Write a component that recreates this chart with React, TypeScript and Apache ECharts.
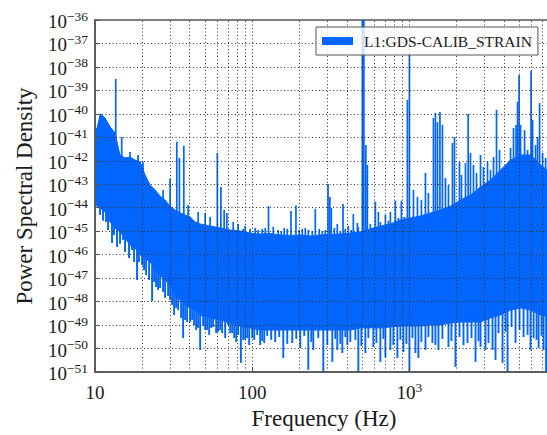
import React, { useEffect, useRef } from "react";
import * as echarts from "echarts";

// ---- data (frequency in Hz, PSD as log10 of the value) ----
const bandFreqs = [10, 10.8, 11.6, 12.5, 13.4, 14.4, 15.5, 16.7, 18, 19.4, 20.8, 22.4, 24.1, 25.9, 27.9, 30, 32.3, 34.8, 37.4, 40.3, 43.4, 46.6, 54, 62.5, 72.4, 84, 97, 112, 130, 151, 175, 202, 234, 271, 314, 363, 421, 487, 564, 654, 757, 876, 1015, 1175, 1361, 1576, 1824, 2112, 2446, 2832, 3280, 3798, 4398, 5093, 5897, 6829, 8192];
const bandTopLog = [-40.99, -40.0, -40.18, -40.56, -40.81, -41.75, -41.88, -41.84, -41.97, -42.05, -42.6, -43.03, -43.24, -43.5, -43.67, -43.93, -44.1, -44.22, -44.31, -44.39, -44.61, -44.69, -44.78, -44.86, -44.95, -44.99, -45.08, -45.12, -45.1, -45.16, -45.18, -45.16, -45.2, -45.16, -45.14, -45.12, -45.08, -45.03, -44.9, -44.78, -44.69, -44.52, -44.44, -44.35, -44.22, -44.1, -43.93, -43.67, -43.46, -43.12, -42.82, -42.39, -41.97, -41.75, -41.75, -42.18, -42.6];
const bandBottomLog = [-43.88, -44.01, -44.18, -44.61, -44.86, -45.03, -45.29, -45.59, -45.71, -46.01, -46.14, -46.31, -46.57, -46.87, -47.08, -47.29, -47.72, -47.93, -48.14, -48.27, -48.36, -48.57, -48.7, -48.78, -48.91, -49.04, -49.12, -49.21, -49.21, -49.21, -49.21, -49.21, -49.21, -49.21, -49.21, -49.21, -49.21, -49.12, -49.12, -49.12, -49.08, -49.04, -49.04, -49.04, -49.0, -49.0, -48.91, -48.87, -48.87, -48.87, -48.7, -48.57, -48.36, -48.27, -48.36, -48.57, -48.7];

const spikeFreqs = [10.3, 13.55, 14.79, 16.71, 18.79, 20.21, 27.11, 30.04, 33.14, 34.43, 36.73, 39.12, 45.31, 50.19, 54.02, 60, 63.2, 66.3, 69.0, 75.7, 81.4, 87.63, 90.2, 97.1, 104.5, 109.2, 115.8, 121.0, 127, 136.1, 146.4, 153.0, 159.9, 167.1, 176.4, 189.8, 199.3, 208.3, 217.6, 227.4, 241.1, 251.9, 267.2, 279.2, 291.7, 303.6, 311.7, 318.6, 333.0, 347.8, 363.5, 378.2, 391.2, 408.9, 427.1, 439.8, 466.6, 473.3, 501.9, 507.5, 513.1, 528.4, 540.2, 564.4, 607.4, 634.7, 653.5, 703.3, 734.8, 756.8, 814.3, 851.1, 889.3, 929.4, 971.2, 1000, 1061, 1125, 1192, 1265, 1321, 1422, 1464, 1508, 1564, 1622, 1695, 1772, 1878, 1934, 2082, 2144, 2274, 2365, 2446, 2556, 2672, 2833, 2960, 3140, 3280, 3428, 3583, 3744, 3969, 4210, 4399, 4596, 4768, 4874, 4983, 5093, 5402, 5644, 5941, 6074, 6347, 6536, 6730, 7033, 7349];
const spikeLog = [-40.6, -38.51, -40.99, -41.62, -41.75, -42.05, -43.24, -42.77, -41.19, -41.88, -41.36, -43.88, -44.18, -44.22, -44.39, -41.67, -43.12, -44.1, -44.22, -44.61, -44.69, -44.9, -44.78, -44.9, -44.86, -44.95, -44.9, -44.86, -43.93, -44.81, -44.95, -44.99, -44.86, -44.9, -44.14, -43.91, -44.95, -44.9, -44.86, -44.95, -44.99, -44.05, -44.9, -44.99, -44.95, -42.99, -43.54, -44.01, -44.86, -44.69, -44.99, -43.84, -44.9, -44.78, -44.95, -44.27, -44.65, -44.82, -35.3, -35.3, -35.3, -41.33, -42.18, -44.69, -43.74, -44.18, -44.61, -44.31, -44.56, -44.18, -43.7, -44.44, -43.7, -44.39, -39.41, -37.41, -43.24, -43.54, -43.67, -42.52, -43.37, -40.18, -39.96, -40.35, -39.92, -40.47, -42.73, -43.03, -41.24, -40.99, -42.05, -42.6, -42.09, -40.0, -41.67, -42.18, -42.52, -41.75, -42.26, -42.05, -42.39, -41.84, -39.83, -41.54, -42.31, -42.26, -41.45, -40.6, -40.47, -39.49, -38.34, -40.47, -40.69, -41.54, -38.17, -40.26, -41.33, -40.99, -39.54, -41.67, -41.88];

const dipFreqs = [10.76, 11.25, 11.75, 12.1, 12.83, 13.21, 13.81, 14.43, 15.08, 15.53, 16.46, 17.21, 17.72, 18.51, 19.06, 19.93, 20.51, 21.13, 22.08, 23.08, 23.76, 24.46, 25.19, 25.94, 27.11, 27.92, 29.17, 30.04, 30.93, 31.86, 32.81, 33.79, 35.3, 36.35, 37.44, 38.55, 40.29, 41.48, 42.71, 43.99, 45.31, 46.65, 48.74, 50.19, 51.69, 53.23, 54.83, 56.44, 58.98, 60.73, 62.55, 64.4, 67.3, 70.33, 72.42, 74.58, 76.81, 79.1, 81.43, 84.72, 87.63, 90.24, 92.94, 95.7, 100, 103, 107.6, 112.4, 115.8, 119.3, 124.6, 132.1, 140.1, 148.6, 157.6, 167.1, 179.8, 190.7, 202.2, 214.4, 227.4, 237.6, 244.7, 263.3, 283.3, 300.4, 323.3, 337.9, 347.8, 363.5, 374.4, 391.2, 402.9, 420.9, 453.1, 473.3, 494.8, 524.5, 548.3, 589.7, 616.5, 653.5, 683.1, 703.3, 756.8, 791, 838.5, 876.3, 915.9, 957, 1000, 1045, 1092, 1141, 1192, 1265, 1321, 1401, 1464, 1530, 1622, 1772, 1851, 1963, 2082, 2208, 2341, 2483, 2633, 2751, 2833, 3049, 3186, 3379, 3530, 3690, 3912, 4089, 4210, 4464, 4733, 5019, 5323, 5644, 5897, 6166, 6441, 6633, 6931, 7137, 7404];
const dipLog = [-44.31, -44.56, -44.61, -44.95, -45.5, -45.16, -45.67, -45.54, -45.37, -45.89, -46.14, -45.8, -46.31, -47.08, -46.31, -46.44, -46.65, -46.87, -47.08, -47.97, -47.16, -47.38, -47.5, -47.42, -47.59, -47.84, -47.76, -47.93, -48.14, -48.57, -48.27, -48.36, -48.7, -49.55, -48.78, -48.87, -48.87, -48.78, -49.0, -49.21, -49.12, -50.06, -49.04, -49.21, -49.21, -49.42, -49.12, -49.08, -49.34, -49.29, -49.21, -49.34, -49.55, -49.0, -49.34, -49.34, -49.55, -49.72, -49.42, -50.61, -49.63, -49.63, -49.55, -49.85, -49.55, -49.63, -49.42, -49.85, -49.68, -49.76, -49.46, -49.63, -49.72, -49.51, -50.4, -49.8, -49.76, -49.59, -49.98, -49.46, -50.91, -49.72, -50.06, -49.55, -51.0, -49.85, -50.57, -49.59, -50.06, -49.8, -50.19, -49.51, -49.85, -49.72, -49.63, -51.0, -49.89, -50.19, -49.55, -49.93, -49.76, -50.57, -49.59, -50.36, -50.06, -49.85, -50.4, -49.63, -50.15, -49.8, -51.0, -49.55, -50.19, -50.4, -49.72, -50.06, -49.51, -49.76, -49.85, -50.06, -49.59, -49.93, -49.68, -50.78, -49.51, -49.85, -49.76, -49.55, -50.57, -49.68, -49.93, -50.06, -49.76, -50.06, -50.49, -49.34, -50.61, -49.29, -51.0, -49.08, -49.76, -49.21, -49.51, -49.42, -50.06, -49.55, -49.63, -49.98, -49.46, -50.06, -51.0];

const xMajorTicks = [10, 100, 1000];
const xMinorGrid = [20, 30, 40, 50, 60, 70, 80, 90, 200, 300, 400, 500, 600, 700, 800, 900, 2000, 3000, 4000, 5000, 6000, 7000, 8000];
const yMinExp = -51;
const yMaxExp = -36;
const yGridExponents = [-50, -49, -48, -47, -46, -45, -44, -43, -42, -41, -40, -39, -38, -37];

const SERIES_NAME = "L1:GDS-CALIB_STRAIN";
const BLUE = "#0066ff";
const FONT = "'Liberation Serif', 'DejaVu Serif', serif";
const TXT = "#1a1a1a";

function bandIndex(f: number) {
  let j = 0;
  while (j < bandFreqs.length - 2 && bandFreqs[j + 1] <= f) j++;
  return j;
}

export default function App() {
  const ref = useRef<HTMLDivElement>(null);
  useEffect(() => {
    if (!ref.current) return;
    const chart = echarts.init(ref.current, null, { renderer: "svg" });
    const supRich = {
      b: { fontSize: 19, fontFamily: FONT, color: TXT, verticalAlign: "bottom", lineHeight: 22 },
      s: { fontSize: 13.5, fontFamily: FONT, color: TXT, verticalAlign: "bottom", lineHeight: 22, padding: [0, 0, 8, 0] },
    };
    const option: any = {
      animation: false,
      backgroundColor: "#ffffff",
      grid: { left: 95, top: 20, right: 0, bottom: 63, show: true, borderColor: "#555", borderWidth: 1.5, backgroundColor: "transparent" },
      legend: {
        data: [{ name: SERIES_NAME, icon: "rect" }],
        left: 316,
        top: 27,
        z: 10,
        itemWidth: 31,
        itemHeight: 8,
        padding: [6, 6, 6, 6],
        backgroundColor: "rgba(255,255,255,0.8)",
        borderColor: "#555",
        borderWidth: 1,
        selectedMode: false,
        textStyle: { fontFamily: FONT, fontSize: 15.5, color: TXT, padding: [0, 0, 0, 6] },
      },
      xAxis: {
        type: "log",
        logBase: 10,
        min: 10,
        max: 8192,
        z: 6,
        name: "Frequency (Hz)",
        nameLocation: "middle",
        nameGap: 27,
        nameTextStyle: { fontFamily: FONT, fontSize: 23, color: TXT, verticalAlign: "top" },
        axisLine: { show: true, lineStyle: { color: "#555", width: 1.5 } },
        axisTick: { show: true, inside: true, length: 5, lineStyle: { color: "#555" } },
        splitLine: { show: false },
        axisLabel: {
          margin: 8,
          showMaxLabel: false,
          formatter: (v: number) => {
            const e = Math.round(Math.log10(v));
            if (e >= 3) return `{b|10}{s|${e}}`;
            return `{b|${Math.round(v)}}`;
          },
          rich: supRich,
        },
      },
      yAxis: {
        type: "value",
        min: yMinExp,
        max: yMaxExp,
        interval: 1,
        z: 6,
        name: "Power Spectral Density",
        nameLocation: "middle",
        nameGap: 59,
        nameTextStyle: { fontFamily: FONT, fontSize: 23, color: TXT },
        axisLine: { show: true, lineStyle: { color: "#555", width: 1.5 } },
        axisTick: { show: true, inside: true, length: 5, lineStyle: { color: "#555" } },
        splitLine: { show: false },
        axisLabel: {
          margin: 7,
          formatter: (v: number) => {
            const e = Math.round(v);
            return `{b|10}{s|${e < 0 ? "\u2212" : ""}${Math.abs(e)}}`;
          },
          rich: supRich,
        },
      },
      series: [
        {
          type: "custom",
          name: SERIES_NAME,
          clip: true,
          z: 2,
          itemStyle: { color: BLUE },
          data: [[bandFreqs[0], bandTopLog[0]]],
          renderItem: (params: any, api: any) => {
            const pts: number[][] = [];
            for (let i = 0; i < bandFreqs.length; i++) pts.push(api.coord([bandFreqs[i], bandTopLog[i]]));
            for (let i = bandFreqs.length - 1; i >= 0; i--) pts.push(api.coord([bandFreqs[i], bandBottomLog[i]]));
            return { type: "polygon", shape: { points: pts }, style: { fill: BLUE, stroke: BLUE, lineWidth: 1 } };
          },
        },
        {
          type: "custom",
          name: "spikes",
          clip: true,
          z: 2,
          data: spikeFreqs.map((f, i) => [f, spikeLog[i]]),
          renderItem: (params: any, api: any) => {
            const f = api.value(0);
            const j = bandIndex(f);
            const base = Math.min(bandTopLog[j], bandTopLog[j + 1]) - 0.4;
            const p1 = api.coord([f, api.value(1)]);
            const p2 = api.coord([f, base]);
            return { type: "line", shape: { x1: p1[0], y1: p1[1], x2: p2[0], y2: p2[1] }, style: { stroke: BLUE, lineWidth: 1.7 } };
          },
        },
        {
          type: "custom",
          name: "dips",
          clip: true,
          z: 2,
          data: dipFreqs.map((f, i) => [f, dipLog[i]]),
          renderItem: (params: any, api: any) => {
            const f = api.value(0);
            const j = bandIndex(f);
            const base = Math.max(bandBottomLog[j], bandBottomLog[j + 1]) + 0.4;
            const p1 = api.coord([f, api.value(1)]);
            const p2 = api.coord([f, base]);
            return { type: "line", shape: { x1: p1[0], y1: p1[1], x2: p2[0], y2: p2[1] }, style: { stroke: BLUE, lineWidth: 1.9 } };
          },
        },
        {
          type: "line",
          name: "grid",
          silent: true,
          z: 5,
          symbol: "none",
          lineStyle: { opacity: 0 },
          data: [[10, yMinExp]],
          markLine: {
            silent: true,
            symbol: ["none", "none"],
            label: { show: false },
            z: 5,
            lineStyle: { type: [1, 2.5], color: "#333", width: 1 },
            data: [
              ...xMajorTicks.filter((v) => v > 10).map((v) => ({ xAxis: v })),
              ...xMinorGrid.map((v) => ({ xAxis: v })),
              ...yGridExponents.map((e) => ({ yAxis: e })),
            ],
          },
        },
      ],
    };
    chart.setOption(option);
    return () => chart.dispose();
  }, []);
  return (
    <div style={{ position: "absolute", left: 0, top: 0, width: 547, height: 435, overflow: "hidden", background: "#fff" }}>
      <div ref={ref} style={{ width: 553, height: 435 }} />
    </div>
  );
}
